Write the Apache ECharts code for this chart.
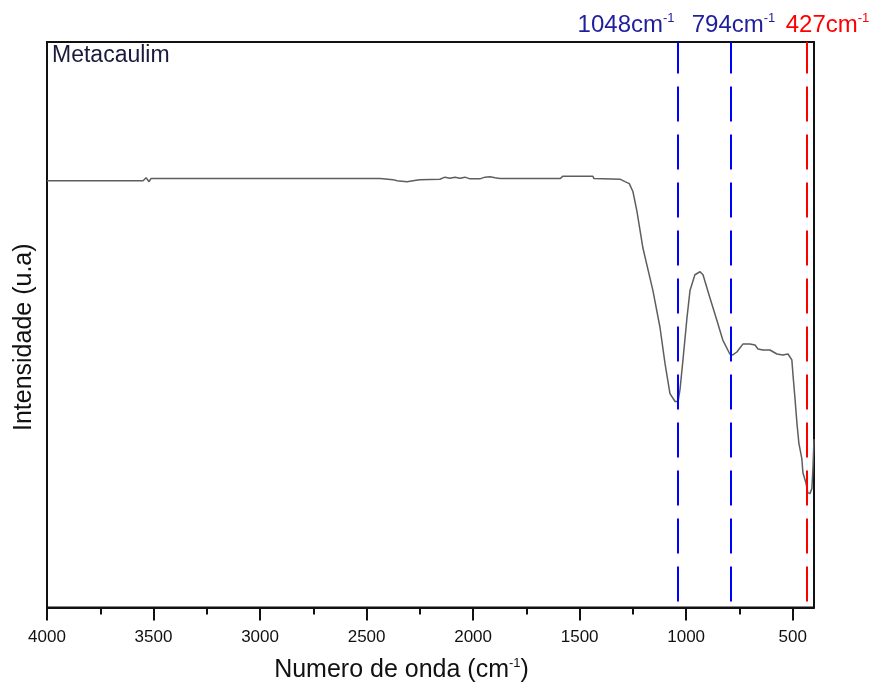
<!DOCTYPE html>
<html>
<head>
<meta charset="utf-8">
<script src="https://cdn.jsdelivr.net/npm/echarts@6/dist/echarts.min.js"></script>
<style>
html,body{margin:0;padding:0;background:#fff;}
#chart{width:876px;height:688px;}
</style>
</head>
<body>
<div id="chart"></div>
<script>
// Wavenumber (cm-1)
const wavenumbers = [4000, 3549, 3535, 3521, 3512, 2437, 2376, 2357, 2310, 2282, 2250,
  2156, 2132, 2109, 2085, 2062, 2038, 2015, 1968, 1944, 1921, 1897, 1874,
  1592, 1578, 1438, 1433, 1311, 1287, 1267, 1250,
  1231, 1203, 1156, 1123, 1099, 1076, 1052, 1038, 1029, 1015,
  996, 982, 959, 935, 921, 889, 856, 828, 795, 781,
  762, 734, 701, 677, 668, 663, 640, 607, 574, 546,
  522, 513, 504, 499, 490, 480, 471, 457, 452, 438,
  429, 419, 410, 405, 400];
// Intensity (arbitrary units)
const intensity = [75.48, 75.48, 76.0, 75.3, 75.85, 75.85, 75.66, 75.48, 75.3, 75.48, 75.66,
  75.74, 76.1, 75.9, 76.1, 75.9, 76.1, 75.8, 75.8, 76.1, 76.18, 76.0, 75.85,
  75.85, 76.27, 76.27, 75.85, 75.74, 75.3, 74.96, 73.56,
  70.05, 63.57, 56.04, 49.56, 43.08, 37.83, 36.43, 36.43, 38.53, 43.78,
  51.31, 56.04, 58.84, 59.37, 58.84, 54.82, 50.79, 47.29, 44.83, 44.66,
  45.18, 46.58, 46.58, 46.41, 46.06, 45.71, 45.53, 45.53, 44.83, 44.66,
  44.83, 44.66, 43.78, 41.33, 37.30, 32.57, 29.07, 26.27, 23.82, 22.07,
  20.32, 20.14, 21.02, 24.52, 29.77];

const xTicks = [4000, 3500, 3000, 2500, 2000, 1500, 1000, 500];
const xMinorTicks = [3750, 3250, 2750, 2250, 1750, 1250, 750];

// Marked band positions (as drawn) and their labels
const peakPositions = [1038, 792, 435];
const peakLabels = ['1048', '794', '427'];
const peakColors = ['#0000ff', '#0000ff', '#ff0000'];
const peakTextColors = ['#1f1f9e', '#1f1f9e', '#ff0000'];
const peakLabelShift = [-52, 3, 21];

const sampleName = 'Metacaulim';
const FONT = '"Liberation Sans", Arial, sans-serif';

const chart = echarts.init(document.getElementById('chart'), null, {renderer: 'canvas'});

const seriesData = wavenumbers.map((w, i) => [w, intensity[i]]);

const option = {
  animation: false,
  backgroundColor: '#fff',
  grid: {left: 47, right: 62, top: 42, bottom: 75, show: true, borderColor: '#111', borderWidth: 2, containLabel: false},
  xAxis: [{
    type: 'value', min: 400, max: 4000, inverse: true, position: 'bottom',
    name: '{a|Numero de onda (cm}{s|-1}{a|)}',
    nameLocation: 'middle', nameGap: 49,
    nameTextStyle: {
      padding: [0, 58, 0, 0],
      rich: {
        a: {fontSize: 25, fontFamily: FONT, color: '#111', lineHeight: 28},
        s: {fontSize: 13, fontFamily: FONT, color: '#111', verticalAlign: 'top', lineHeight: 14}
      }
    },
    axisLine: {show: true, lineStyle: {color: '#111', width: 2}},
    axisTick: {show: true, customValues: xTicks, length: 13, inside: false, lineStyle: {color: '#111', width: 2}},
    axisLabel: {show: true, customValues: xTicks, margin: 21, fontSize: 17, fontFamily: FONT, color: '#111',
      formatter: v => String(v)},
    splitLine: {show: false},
    minorTick: {show: false}
  }, {
    type: 'value', min: 400, max: 4000, inverse: true, position: 'bottom', gridIndex: 0,
    axisLine: {show: false},
    axisTick: {show: true, customValues: xMinorTicks, length: 7, inside: false, lineStyle: {color: '#111', width: 2}},
    axisLabel: {show: false},
    splitLine: {show: false}
  }],
  yAxis: {
    type: 'value', min: 0, max: 100,
    name: 'Intensidade (u.a)', nameLocation: 'middle', nameGap: 10,
    nameTextStyle: {fontSize: 25, fontFamily: FONT, color: '#111', padding: [0, 25, 0, 0]},
    axisLine: {show: false}, axisTick: {show: false}, axisLabel: {show: false}, splitLine: {show: false}
  },
  series: [{
    type: 'line',
    xAxisIndex: 0,
    data: seriesData,
    showSymbol: false,
    symbol: 'none',
    lineStyle: {color: '#5e5e5e', width: 1.5},
    z: 3,
    markLine: {
      silent: true,
      symbol: ['none', 'none'],
      label: {show: false},
      data: peakPositions.map((p, i) => ({
        xAxis: p,
        lineStyle: {color: peakColors[i], width: 2, type: [35, 13], dashOffset: 42}
      })),
      z: 4
    }
  }]
};
chart.setOption(option);

// Text annotations placed via the chart's own x scale
const graphics = [{
  type: 'text', left: 52, top: 44,
  style: {text: sampleName, fontSize: 23, fontFamily: FONT, fill: '#1a1a3c'}
}];
peakPositions.forEach((p, i) => {
  const px = chart.convertToPixel({xAxisIndex: 0}, p);
  graphics.push({
    type: 'text', x: px + peakLabelShift[i], y: 12,
    style: {
      text: '{n|' + peakLabels[i] + 'cm}{s|-1}',
      align: 'center', verticalAlign: 'top',
      rich: {
        n: {fontSize: 24, fontFamily: FONT, fill: peakTextColors[i], lineHeight: 26},
        s: {fontSize: 13, fontFamily: FONT, fill: peakTextColors[i], verticalAlign: 'top', lineHeight: 14}
      }
    }
  });
});
chart.setOption({graphic: graphics});
</script>
</body>
</html>
